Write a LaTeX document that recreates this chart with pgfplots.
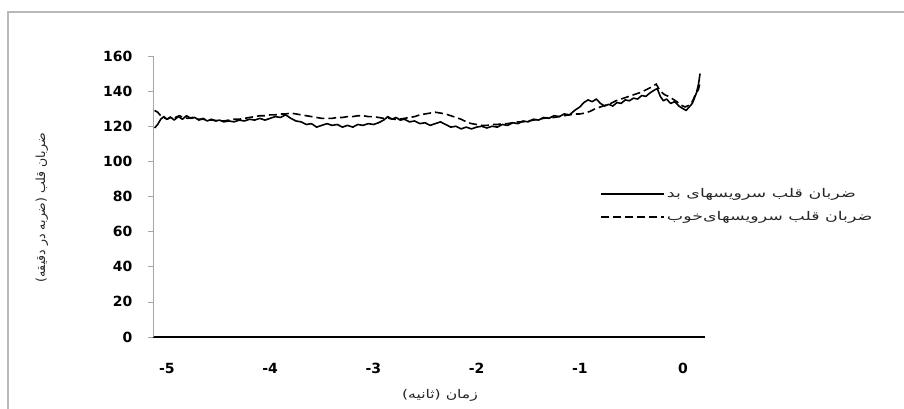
\documentclass[border=0pt]{standalone}
\usepackage{fontspec}
\usepackage{pgfplots}
\pgfplotsset{compat=1.18}
\setmainfont{DejaVu Sans}
\newfontfamily\fa[Script=Arabic,FakeStretch=1.3]{DejaVu Sans}
\newfontfamily\falg[Script=Arabic,FakeStretch=1.45]{DejaVu Sans}
\newfontfamily\fay[Script=Arabic]{DejaVu Sans}
\TeXXeTstate=1

\begin{document}
\begin{tikzpicture}[x=1pt,y=1pt]
\useasboundingbox (0,0) rectangle (904,408);
\fill[white] (0,0) rectangle (904,408);
\draw[gray!55, line width=2.5pt] (8,-5) -- (8,396) -- (910,396);
\begin{axis}[
  at={(153pt,71pt)}, anchor=south west,
  scale only axis, width=552pt, height=281pt,
  xmin=-5.135, xmax=0.213, ymin=0, ymax=160,
  axis x line*=bottom, axis y line*=left,
  x axis line style={black, line width=1.4pt, -},
  y axis line style={gray!70, line width=0.6pt, -},
  xtick={-5,-4,-3,-2,-1,0},
  xticklabels={-5,-4,-3,-2,-1,0},
  ytick={0,20,40,60,80,100,120,140,160},
  yticklabels={0,20,40,60,80,100,120,140,160},
  xtick style={draw=none},
  ytick style={gray!70, line width=0.6pt},
  ytick align=outside, major tick length=5pt,
  ticklabel style={font=\fontsize{14}{16}\selectfont\bfseries},
  xticklabel style={yshift=-23pt},
  yticklabel style={xshift=-12pt},
  legend style={at={(rel axis cs:0.81,0.535)}, anchor=north west, draw=none, fill=none,
    font=\falg\fontsize{12}{14}\selectfont, text=black!85, row sep=8pt, inner sep=0pt,
    cells={anchor=west}},
  legend image code/.code={\draw[#1] (0pt,0pt) -- (63pt,0pt);},
  clip=false,
]
\addplot[black, line width=1.6pt, line join=round] coordinates {
(-5.12,119) (-5.09,121) (-5.06,124) (-5.03,125.5) (-5.00,124) (-4.96,125) (-4.93,123.5)
(-4.89,125.5) (-4.85,124) (-4.81,126) (-4.77,124.5) (-4.73,125) (-4.69,123.5) (-4.65,124.5)
(-4.61,123) (-4.57,124) (-4.53,123) (-4.49,123.5) (-4.45,122.5) (-4.40,123) (-4.35,122.5)
(-4.30,123.5) (-4.25,123) (-4.20,124) (-4.15,123.5) (-4.10,124.5) (-4.05,123.5) (-4.00,124.5)
(-3.95,125.5) (-3.90,125) (-3.85,126.5) (-3.80,124.5) (-3.75,123) (-3.70,122.5) (-3.65,121)
(-3.60,121.5) (-3.55,119.5) (-3.50,120.5) (-3.45,121.5) (-3.40,120.5) (-3.35,121) (-3.30,119.5)
(-3.25,120.5) (-3.20,119.5) (-3.15,121) (-3.10,120.5) (-3.05,121.5) (-3.00,121) (-2.95,122)
(-2.90,123.5) (-2.86,125.5) (-2.82,124) (-2.78,125) (-2.74,123.5) (-2.70,124) (-2.65,122.5)
(-2.60,123) (-2.55,121.5) (-2.50,122) (-2.45,120.5) (-2.40,121.5) (-2.35,122.5) (-2.30,121)
(-2.25,119.5) (-2.20,120) (-2.15,118.5) (-2.10,119.5) (-2.05,118.5) (-2.00,119.5) (-1.95,120)
(-1.90,119) (-1.85,120) (-1.80,119.5) (-1.75,121) (-1.70,120.5) (-1.65,122) (-1.60,121.5)
(-1.55,123) (-1.50,122.5) (-1.45,124) (-1.40,123.5) (-1.35,125) (-1.30,124.5) (-1.25,126)
(-1.20,125.5) (-1.15,127) (-1.10,126.5) (-1.05,129) (-1.00,131) (-0.96,133.5) (-0.92,135)
(-0.88,134) (-0.84,135.5) (-0.80,133) (-0.76,131.5) (-0.72,132.5) (-0.68,131.5) (-0.64,133.5)
(-0.60,133) (-0.56,135) (-0.52,134.5) (-0.48,136) (-0.44,135.5) (-0.40,137.5) (-0.36,137)
(-0.32,139) (-0.28,140.5) (-0.25,141.5) (-0.22,137) (-0.19,134.5) (-0.16,135.5) (-0.12,133)
(-0.08,134) (-0.04,131.5) (0.00,130) (0.03,129) (0.06,131) (0.09,133) (0.11,136)
(0.13,139) (0.15,144) (0.165,150)
};
\addlegendentry{\beginR ضربان قلب سرویسهای بد\endR}
\addplot[black, line width=1.6pt, dash pattern=on 8pt off 4pt] coordinates {
(-5.12,129) (-5.09,128) (-5.06,126) (-5.03,125) (-5.00,124) (-4.96,125.5) (-4.92,125)
(-4.88,126) (-4.84,125) (-4.80,124.5) (-4.75,125) (-4.70,124) (-4.65,124) (-4.60,123.5)
(-4.55,123.5) (-4.50,123) (-4.45,123) (-4.40,123.5) (-4.35,124) (-4.30,124) (-4.25,124.5)
(-4.20,125) (-4.15,125.5) (-4.10,126) (-4.05,126) (-4.00,126.5) (-3.95,126.5) (-3.90,127)
(-3.85,127) (-3.80,127.5) (-3.75,127) (-3.70,126.5) (-3.65,126) (-3.60,125.5) (-3.55,125)
(-3.50,124.5) (-3.45,124.5) (-3.40,124.5) (-3.35,125) (-3.30,125) (-3.25,125.5) (-3.20,125.5)
(-3.15,126) (-3.10,126) (-3.05,125.5) (-3.00,125.5) (-2.95,125) (-2.90,124.5) (-2.85,124.5)
(-2.80,124) (-2.75,124) (-2.70,124.5) (-2.65,125) (-2.60,125.5) (-2.55,126.5) (-2.50,127)
(-2.45,127.5) (-2.40,128) (-2.35,127.5) (-2.30,127) (-2.25,126) (-2.20,125) (-2.15,124)
(-2.10,122.5) (-2.05,121.5) (-2.00,121) (-1.95,120.5) (-1.90,120.5) (-1.85,121) (-1.80,121)
(-1.75,121.5) (-1.70,121.5) (-1.65,122) (-1.60,122.5) (-1.55,122.5) (-1.50,123) (-1.45,123.5)
(-1.40,124) (-1.35,124.5) (-1.30,125) (-1.25,125) (-1.20,125.5) (-1.15,126) (-1.10,126.5)
(-1.05,127) (-1.00,127) (-0.95,127.5) (-0.90,128.5) (-0.85,130) (-0.80,131) (-0.75,132)
(-0.70,133) (-0.65,134.5) (-0.60,135.5) (-0.55,136.5) (-0.50,137.5) (-0.45,138.5) (-0.40,139.5)
(-0.35,141) (-0.30,142.5) (-0.26,144) (-0.22,140) (-0.18,138) (-0.14,137) (-0.10,135.5)
(-0.06,134) (-0.02,132) (0.02,131) (0.06,132) (0.09,134) (0.12,138) (0.15,141) (0.165,145)
};
\addlegendentry{\beginR ضربان قلب سرویسهای‌خوب\endR}
\end{axis}
\node[rotate=90, font=\fay\fontsize{12.5}{14}\selectfont, text=black!85] at (42,200) {\beginR ضربان قلب (ضربه در دقیقه)\endR};
\node[font=\fa\fontsize{12}{14}\selectfont, text=black!85] at (440,13) {\beginR زمان (ثانیه)\endR};
\end{tikzpicture}
\end{document}
